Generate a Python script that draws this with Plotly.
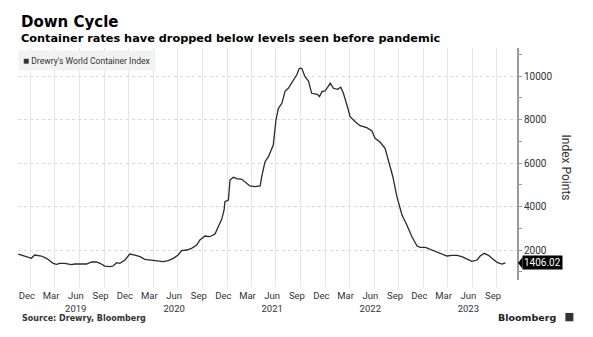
import plotly.graph_objects as go

dates = [
    "2018-10-30", "2018-12-18", "2018-12-30", "2019-01-24", "2019-02-12", "2019-03-09",
    "2019-03-21", "2019-04-03", "2019-04-21", "2019-05-16", "2019-05-28", "2019-06-22",
    "2019-07-11", "2019-07-30", "2019-08-17", "2019-08-30", "2019-09-17", "2019-10-06",
    "2019-10-18", "2019-10-31", "2019-11-12", "2019-12-01", "2019-12-19", "2020-01-07",
    "2020-01-26", "2020-02-13", "2020-03-03", "2020-03-28", "2020-04-21", "2020-05-10",
    "2020-05-29", "2020-06-16", "2020-06-29", "2020-07-18", "2020-08-05", "2020-08-24",
    "2020-09-05", "2020-09-24", "2020-10-12", "2020-10-31", "2020-11-12", "2020-11-25",
    "2020-12-04", "2020-12-07", "2020-12-20", "2020-12-26", "2021-01-07", "2021-01-20",
    "2021-02-08", "2021-02-20", "2021-03-10", "2021-03-29", "2021-04-17", "2021-04-23",
    "2021-05-05", "2021-05-18", "2021-06-05", "2021-06-15", "2021-06-24", "2021-07-07",
    "2021-07-19", "2021-07-31", "2021-08-19", "2021-08-31", "2021-09-10", "2021-09-19",
    "2021-10-01", "2021-10-14", "2021-10-26", "2021-11-08", "2021-11-16", "2021-11-24",
    "2021-12-03", "2021-12-15", "2022-01-03", "2022-01-15", "2022-01-30", "2022-02-11",
    "2022-02-21", "2022-03-06", "2022-03-18", "2022-04-06", "2022-04-24", "2022-05-19",
    "2022-06-07", "2022-06-19", "2022-07-08", "2022-07-26", "2022-08-08", "2022-08-24",
    "2022-09-08", "2022-09-27", "2022-10-15", "2022-11-03", "2022-11-22", "2022-12-04",
    "2022-12-23", "2023-01-10", "2023-01-29", "2023-02-16", "2023-03-13", "2023-04-01",
    "2023-04-20", "2023-05-08", "2023-05-27", "2023-06-14", "2023-07-03", "2023-07-15",
    "2023-07-30", "2023-08-15", "2023-09-01", "2023-09-16", "2023-10-04", "2023-10-17",
]
values = [
    1816, 1618, 1770, 1724, 1618, 1389,
    1343, 1389, 1389, 1324, 1356, 1356,
    1356, 1448, 1448, 1389, 1264, 1232,
    1264, 1416, 1389, 1540, 1816, 1770,
    1692, 1573, 1540, 1508, 1462, 1508,
    1618, 1770, 1968, 2000, 2078, 2230,
    2460, 2644, 2612, 2736, 3071, 3412,
    3839, 4221, 4299, 5219, 5343, 5279,
    5251, 5141, 4943, 4911, 4943, 5371,
    6046, 6290, 6828, 7978, 8516, 8746,
    9311, 9435, 9817, 10047, 10355, 10355,
    9968, 9771, 9205, 9159, 9159, 9049,
    9279, 9311, 9665, 9435, 9389, 9481,
    9205, 8667, 8129, 7899, 7715, 7623,
    7472, 7136, 6952, 6676, 6060, 5370,
    4451, 3609, 3150, 2612, 2184, 2124,
    2124, 2032, 1922, 1816, 1724, 1756,
    1756, 1692, 1600, 1481, 1540, 1724,
    1848, 1756, 1573, 1435, 1356, 1406.02,
]

tick_dates = [
    "2018-12-01", "2019-03-01", "2019-06-01", "2019-09-01", "2019-12-01",
    "2020-03-01", "2020-06-01", "2020-09-01", "2020-12-01", "2021-03-01",
    "2021-06-01", "2021-09-01", "2021-12-01", "2022-03-01", "2022-06-01",
    "2022-09-01", "2022-12-01", "2023-03-01", "2023-06-01", "2023-09-01",
]
tick_labels = [
    "Dec", "Mar", "Jun<br>2019", "Sep", "Dec",
    "Mar", "Jun<br>2020", "Sep", "Dec", "Mar",
    "Jun<br>2021", "Sep", "Dec", "Mar", "Jun<br>2022",
    "Sep", "Dec", "Mar", "Jun<br>2023", "Sep",
]
grid_dates = [d[:8] + "15" for d in tick_dates]
y_ticks = [2000, 4000, 6000, 8000, 10000]
x_range = ["2018-10-29", "2023-11-29"]

last_value = values[-1]

fig = go.Figure()
# invisible trace to activate the gridline axis
fig.add_trace(go.Scatter(
    x=[dates[0]], y=[values[0]], xaxis="x2", mode="lines",
    line=dict(width=0), showlegend=False, hoverinfo="skip",
))
fig.add_trace(go.Scatter(
    x=dates, y=values, mode="lines",
    line=dict(color="#2a2a2a", width=1.3),
    showlegend=False, hoverinfo="skip",
))

fig.update_layout(
    width=593, height=337,
    margin=dict(l=18, r=76, t=48, b=57),
    paper_bgcolor="white", plot_bgcolor="white",
    font=dict(family="Roboto", color="#333333"),
    xaxis=dict(
        range=x_range,
        tickmode="array", tickvals=tick_dates, ticktext=tick_labels,
        showgrid=False, ticks="outside", ticklen=7, tickcolor="rgba(0,0,0,0)",
        showline=False, zeroline=False,
        tickfont=dict(size=9.5, color="#333333"),
    ),
    xaxis2=dict(
        overlaying="x", side="bottom", range=x_range,
        tickmode="array", tickvals=grid_dates, showticklabels=False,
        showgrid=True, gridcolor="#e6e6e6", gridwidth=1,
        ticks="outside", ticklen=7, tickcolor="#e6e6e6",
        showline=False, zeroline=False, layer="below traces",
    ),
    yaxis=dict(
        side="right", range=[621, 11288],
        tickmode="array", tickvals=y_ticks, tickformat="d",
        showgrid=True, gridcolor="#d8d8d8", griddash="dot", gridwidth=1,
        showline=True, linecolor="#9a9a9a", linewidth=2,
        ticks="outside", ticklen=3, tickcolor="#9a9a9a",
        tickfont=dict(size=10, color="#333333"),
        zeroline=False,
        minor=dict(dtick=1000, tick0=0, ticks="outside", ticklen=3,
                   tickcolor="#9a9a9a", showgrid=False),
    ),
)

annotations = [
    dict(text="<b>Down Cycle</b>", xref="paper", yref="paper", x=0.002, y=1.112,
         xanchor="left", yanchor="middle", showarrow=False,
         font=dict(family="DejaVu Sans", size=15, color="#000000")),
    dict(text="<b>Container rates have dropped below levels seen before pandemic</b>",
         xref="paper", yref="paper", x=0.002, y=1.043,
         xanchor="left", yanchor="middle", showarrow=False,
         font=dict(family="DejaVu Sans", size=11.3, color="#000000")),
    dict(text="<span style='font-size:10px'>■</span> Drewry's World Container Index",
         xref="paper", yref="paper",
         x=0, y=0.993, xanchor="left", yanchor="top", showarrow=False,
         bgcolor="#f2f2f2", borderpad=4,
         font=dict(family="Roboto", size=8.6, color="#333333")),
    dict(text="Index Points", xref="paper", yref="paper", x=1.099, y=0.483,
         xanchor="center", yanchor="middle", textangle=90, showarrow=False,
         font=dict(family="Roboto", size=12, color="#333333")),
    dict(text=f"{last_value:.2f}", xref="paper", yref="y", x=1, y=last_value,
         xanchor="left", yanchor="middle", xshift=5, showarrow=False,
         bgcolor="#000000", borderpad=1,
         font=dict(family="Roboto", size=10, color="#ffffff")),
    dict(text="<b>Source: Drewry, Bloomberg</b>", xref="paper", yref="paper",
         x=0.004, y=-0.164, xanchor="left", yanchor="middle", showarrow=False,
         font=dict(family="DejaVu Sans", size=8, color="#333333")),
    dict(text="<b>Bloomberg</b>", xref="paper", yref="paper",
         x=1.083, y=-0.16, xanchor="right", yanchor="middle", showarrow=False,
         font=dict(family="DejaVu Sans", size=9.5, color="#222222")),
]
fig.update_layout(annotations=annotations)

# Bloomberg icon and last-value pointer
fig.add_shape(type="rect", xref="paper", yref="paper",
              x0=1.097, x1=1.113, y0=-0.178, y1=-0.142,
              fillcolor="#333333", line=dict(width=0))
fig.add_shape(type="path", xref="paper", yref="y",
              path=f"M 1.002 {last_value} L 1.011 {last_value + 260} L 1.011 {last_value - 260} Z",
              fillcolor="#000000", line=dict(width=0))

fig.write_html("out.html")
